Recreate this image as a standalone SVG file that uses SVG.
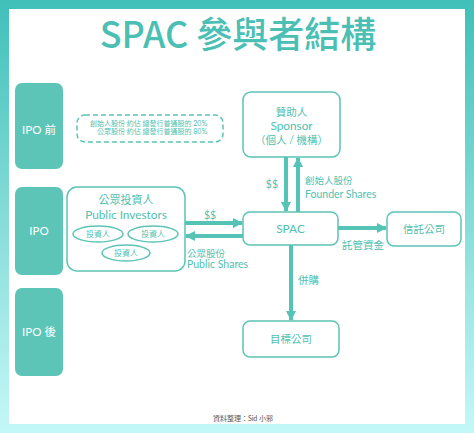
<svg xmlns="http://www.w3.org/2000/svg" width="474" height="433" viewBox="0 0 474 433">
<defs>
<linearGradient id="frame" x1="0" y1="0" x2="0" y2="1">
<stop offset="0" stop-color="#40bfb9"/>
<stop offset="0.5" stop-color="#86dcd8"/>
<stop offset="1" stop-color="#c4f8f8"/>
</linearGradient>
<marker id="ah" viewBox="0 0 10 10" refX="9" refY="5" markerWidth="10" markerHeight="10" markerUnits="userSpaceOnUse" orient="auto">
<path d="M0,0 L10,5 L0,10 z" fill="#55c3b5"/>
</marker>
</defs>
<style>
.side{fill:#5cc5b8}
.sidet{fill:#fff;font-family:Lato,"Noto Sans CJK TC",sans-serif;font-size:11.5px;text-anchor:middle}
.node{fill:#fff;stroke:#5cc4b5;stroke-width:1.5}
.t{fill:#4fbfb0;font-family:Lato,"Noto Sans CJK TC",sans-serif;font-size:10.5px;text-anchor:middle}
.e{font-size:11.8px}
.lbl{fill:#4fbfb0;font-family:Lato,"Noto Sans CJK TC",sans-serif;font-size:10.5px}
.sm{fill:#4fbfb0;font-family:Lato,"Noto Sans CJK TC",sans-serif;font-size:7px}
.con{stroke:#55c3b5;stroke-width:4;fill:none;marker-end:url(#ah)}
</style>
<rect x="0" y="0" width="474" height="433" fill="url(#frame)"/>
<rect x="9" y="9" width="456" height="415" fill="#fff"/>
<text x="238" y="48" text-anchor="middle" font-family="'Noto Sans CJK TC',sans-serif" font-size="36" font-weight="500" fill="#4cbfb5">SPAC 參與者結構</text>

<g id="ipo-before"><rect class="side" x="15" y="83" width="48" height="86" rx="7"/><text class="sidet" x="39" y="134">IPO 前</text></g>
<g id="ipo"><rect class="side" x="15" y="187" width="48" height="88" rx="7"/><text class="sidet" x="39" y="235">IPO</text></g>
<g id="ipo-after"><rect class="side" x="15" y="288" width="48" height="88" rx="7"/><text class="sidet" x="39" y="336">IPO 後</text></g>

<g id="note">
<rect x="77" y="115" width="146" height="27" rx="8" fill="none" stroke="#5cc4b5" stroke-width="1.5" stroke-dasharray="5,3"/>
<text class="sm" x="207" y="126" text-anchor="end">創始人股份  約佔 總發行普通股的 20%</text>
<text class="sm" x="207" y="134" text-anchor="end">公眾股份     約佔 總發行普通股的 80%</text>
</g>

<g id="sponsor">
<rect class="node" x="243" y="92" width="97" height="65" rx="8"/>
<text class="t" x="291.5" y="116">贊助人</text>
<text class="t e" x="291.5" y="129.5">Sponsor</text>
<text class="t" x="291.5" y="144">（個人 / 機構）</text>
</g>

<g id="investors">
<rect class="node" x="67" y="187" width="118" height="84" rx="10"/>
<text class="t" x="126" y="204" style="font-size:11px">公眾投資人</text>
<text class="t e" x="126" y="218.5">Public Investors</text>
<ellipse class="node" cx="98" cy="234" rx="25" ry="8"/>
<text class="t" x="98" y="237" style="font-size:8px">投資人</text>
<ellipse class="node" cx="153" cy="234" rx="25" ry="8"/>
<text class="t" x="153" y="237" style="font-size:8px">投資人</text>
<ellipse class="node" cx="126" cy="253" rx="24" ry="8"/>
<text class="t" x="126" y="256" style="font-size:8px">投資人</text>
</g>

<g id="spac">
<rect class="node" x="243" y="212" width="95" height="33" rx="7"/>
<text class="t e" x="290.5" y="233">SPAC</text>
</g>

<g id="trust">
<rect class="node" x="387" y="212" width="74" height="34" rx="7"/>
<text class="t" x="424" y="233">信託公司</text>
</g>

<g id="target">
<rect class="node" x="243" y="321" width="96" height="36" rx="7"/>
<text class="t" x="291" y="343">目標公司</text>
</g>

<g id="connectors">
<line class="con" x1="286" y1="157" x2="286" y2="211"/>
<line class="con" x1="298" y1="212" x2="298" y2="158"/>
<line class="con" x1="185" y1="223" x2="242" y2="223"/>
<line class="con" x1="243" y1="236" x2="186" y2="236"/>
<line class="con" x1="338" y1="228" x2="386" y2="228"/>
<line class="con" x1="291" y1="245" x2="291" y2="320"/>
<text class="lbl e" x="278" y="188" text-anchor="end">$$</text>
<text class="lbl" x="305" y="184" style="font-size:9.5px">創始人股份</text>
<text class="lbl e" x="305" y="197.5">Founder Shares</text>
<text class="lbl e" x="210" y="219" text-anchor="middle">$$</text>
<text class="lbl" x="187" y="257" style="font-size:9.5px">公眾股份</text>
<text class="lbl e" x="187" y="268">Public Shares</text>
<text class="lbl" x="342" y="249">託管資金</text>
<text class="lbl" x="298" y="284">併購</text>
</g>

<text x="243" y="421" text-anchor="middle" font-family="Lato,'Noto Sans CJK TC',sans-serif" font-size="7" fill="#555">資料整理：Sid 小邪</text>
</svg>
